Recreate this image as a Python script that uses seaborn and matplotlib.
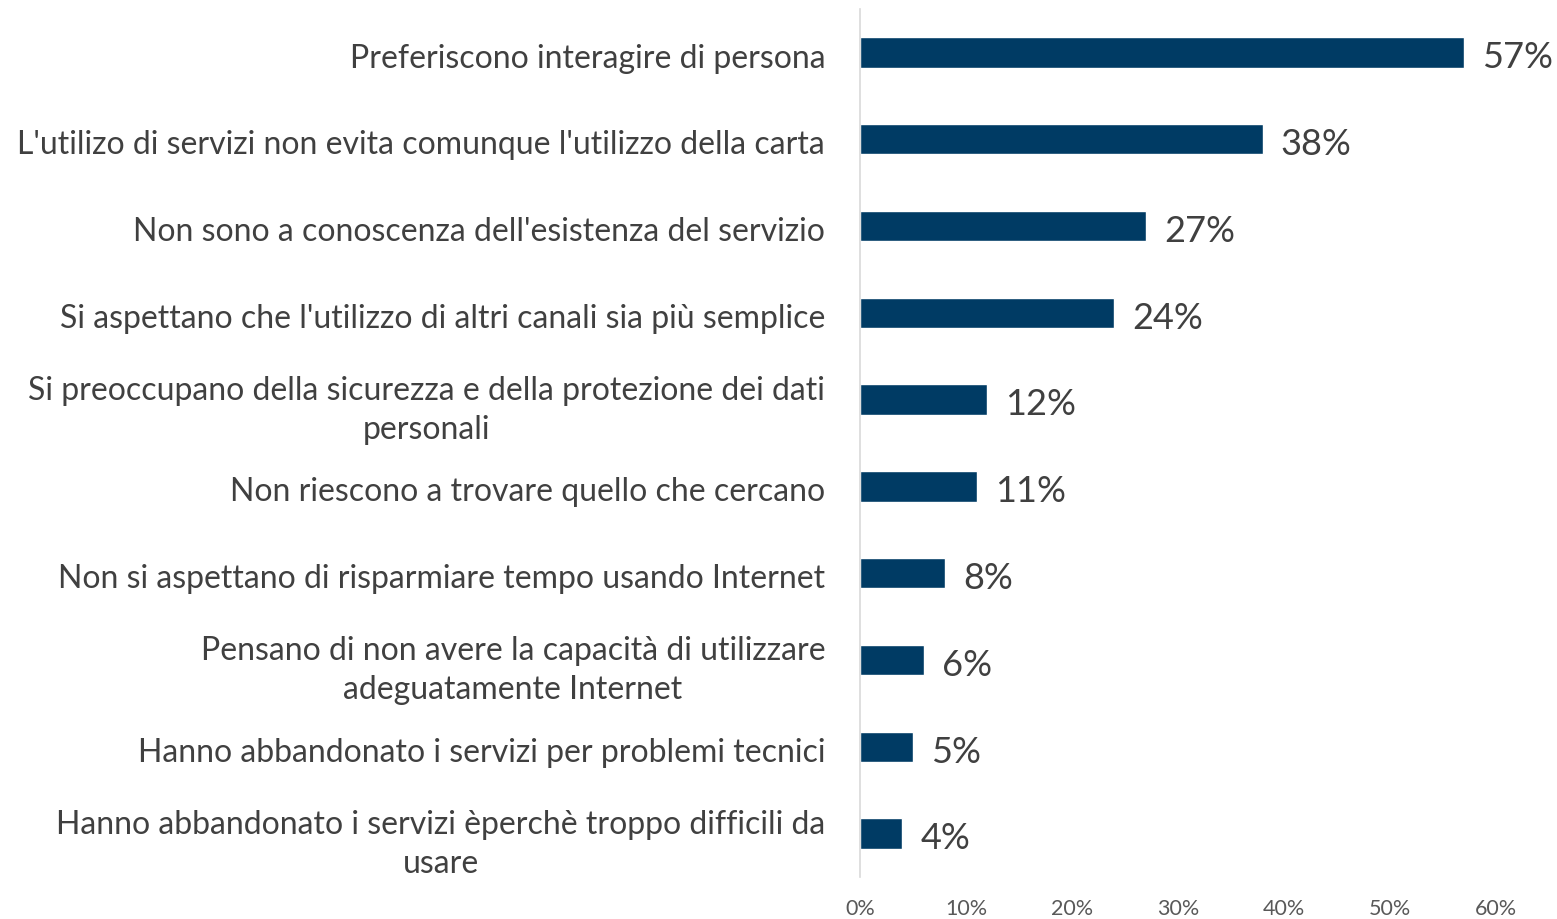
import matplotlib
matplotlib.use('Agg')
import matplotlib.pyplot as plt
import matplotlib.transforms as mtransforms
import seaborn as sns
import pandas as pd

# Dati
motivi = [
    "Preferiscono interagire di persona",
    "L'utilizo di servizi non evita comunque l'utilizzo della carta",
    "Non sono a conoscenza dell'esistenza del servizio",
    "Si aspettano che l'utilizzo di altri canali sia più semplice",
    "Si preoccupano della sicurezza e della protezione dei dati\npersonali",
    "Non riescono a trovare quello che cercano",
    "Non si aspettano di risparmiare tempo usando Internet",
    "Pensano di non avere la capacità di utilizzare\nadeguatamente Internet",
    "Hanno abbandonato i servizi per problemi tecnici",
    "Hanno abbandonato i servizi èperchè troppo difficili da\nusare",
]
percentuali = [57, 38, 27, 24, 12, 11, 8, 6, 5, 4]
tick_valori = [0, 10, 20, 30, 40, 50, 60]
tick_etichette = ['0%', '10%', '20%', '30%', '40%', '50%', '60%']

df = pd.DataFrame({'motivo': motivi, 'valore': percentuali})

sns.set_style('white')
plt.rcParams['font.family'] = ['Lato', 'DejaVu Sans']

fig = plt.figure(figsize=(15.57, 9.2), dpi=100)
ax = fig.add_axes([0.5523, 0.0457, 0.4085, 0.9433])

sns.barplot(data=df, x='valore', y='motivo', color='#003B64', width=0.35,
            saturation=1, ax=ax)

for i, v in enumerate(percentuali):
    ax.text(v + 1.7, i + 0.05, f'{v}%', va='center', ha='left', fontsize=26, color='#404040')

ax.set_xlim(0, 60)
ax.set_xticks(tick_valori)
ax.set_xticklabels(tick_etichette, fontsize=15.5, color='#595959')
ax.tick_params(axis='x', length=0, pad=15)
ax.tick_params(axis='y', length=0, pad=25)
spostamento = mtransforms.ScaledTranslation(0, -2 / 100, fig.dpi_scale_trans)
for lbl in ax.get_yticklabels():
    lbl.set_fontsize(23)
    lbl.set_color('#404040')
    lbl.set_multialignment('center')
    lbl.set_linespacing(1.38)
    lbl.set_transform(lbl.get_transform() + spostamento)
ax.set_xlabel('')
ax.set_ylabel('')

for s in ['top', 'right', 'bottom']:
    ax.spines[s].set_visible(False)
ax.spines['left'].set_color('#D9D9D9')
ax.spines['left'].set_linewidth(1.2)

fig.savefig('out.png', dpi=100)
